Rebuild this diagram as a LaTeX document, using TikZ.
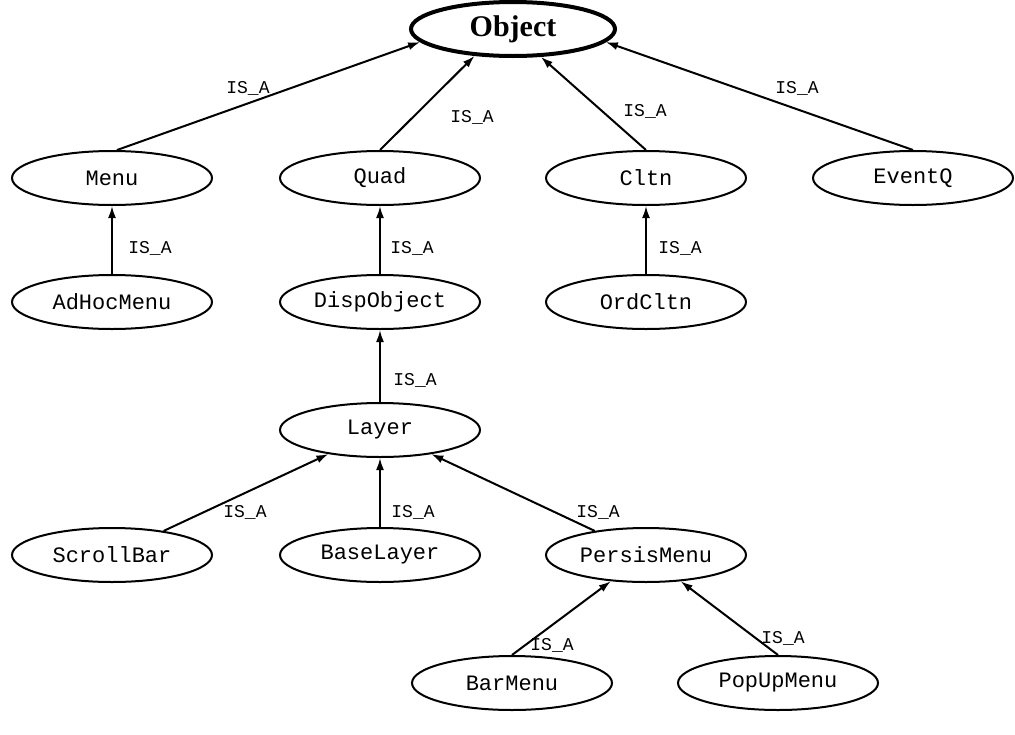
\documentclass[tikz,border=0pt]{standalone}
\usepackage{fontspec}
\setmainfont{Liberation Serif}
\setmonofont{Liberation Mono}
\usetikzlibrary{shapes.geometric,arrows.meta}

\tikzset{
  cls/.style={draw, ellipse, line width=2pt, minimum width=200pt, minimum height=54pt,
    inner sep=0pt, font=\ttfamily\fontsize{22}{22}\selectfont},
  root/.style={cls, line width=4pt, minimum width=204pt, minimum height=54pt,
    font=\bfseries\fontsize{30}{30}\selectfont},
  isa/.style={-{Latex[length=12pt,width=8pt]}, line width=2pt},
  lbl/.style={font=\ttfamily\fontsize{18}{18}\selectfont, inner sep=0pt}
}

\begin{document}
\begin{tikzpicture}[x=1pt,y=-1pt]
\useasboundingbox (0,0) rectangle (1015,734);

% class nodes
\node[root] (obj) at (513,29) {Object};

\node[cls] (menu)   at (112,178) {Menu};
\node[cls] (quad)   at (380,178) {Quad};
\node[cls] (cltn)   at (646,178) {Cltn};
\node[cls] (eventq) at (913,178) {EventQ};

\node[cls] (adhoc)  at (112,302) {AdHocMenu};
\node[cls] (disp)   at (380,302) {DispObject};
\node[cls] (ord)    at (646,302) {OrdCltn};

\node[cls] (layer)  at (380,430) {Layer};

\node[cls] (scroll) at (112,555) {ScrollBar};
\node[cls] (base)   at (380,555) {BaseLayer};
\node[cls] (persis) at (646,555) {PersisMenu};

\node[cls] (bar)    at (512,683) {BarMenu};
\node[cls] (popup)  at (778,683) {PopUpMenu};

% IS_A relations, arrow pointing at the parent class
\draw[isa] (menu.80)      -- (obj.188);
\draw[isa] (quad.north)   -- (obj.215);
\draw[isa] (cltn.north)   -- (obj.315);
\draw[isa] (eventq.north) -- (obj.352);

\draw[isa] (adhoc) -- (menu);
\draw[isa] (disp)  -- (quad);
\draw[isa] (ord)   -- (cltn);
\draw[isa] (layer) -- (disp);

\draw[isa] (scroll) -- (layer);
\draw[isa] (base)   -- (layer);
\draw[isa] (persis) -- (layer);

\draw[isa] (bar.north)   -- (persis);
\draw[isa] (popup.north) -- (persis);

% relation labels
\node[lbl] (l1)  at (248,88)  {IS\_A};
\node[lbl] (l2)  at (472,117) {IS\_A};
\node[lbl] (l3)  at (645,111) {IS\_A};
\node[lbl] (l4)  at (797,88)  {IS\_A};
\node[lbl] (l5)  at (150,248) {IS\_A};
\node[lbl] (l6)  at (412,248) {IS\_A};
\node[lbl] (l7)  at (680,248) {IS\_A};
\node[lbl] (l8)  at (415,380) {IS\_A};
\node[lbl] (l9)  at (245,512) {IS\_A};
\node[lbl] (l10) at (413,512) {IS\_A};
\node[lbl] (l11) at (598,512) {IS\_A};
\node[lbl] (l12) at (552,645) {IS\_A};
\node[lbl] (l13) at (783,638) {IS\_A};
\end{tikzpicture}
\end{document}
